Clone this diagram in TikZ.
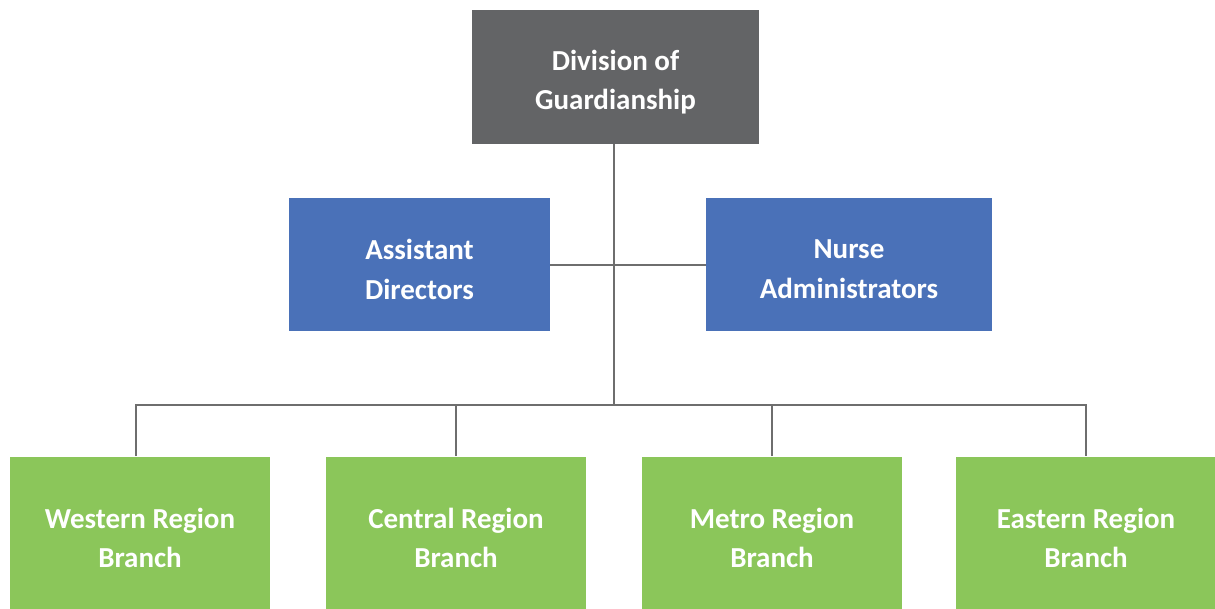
\documentclass[tikz,border=0pt]{standalone}
\usepackage{fontspec}
\setmainfont{Carlito}
\usepackage{xcolor}
\definecolor{colorHead}{HTML}{636466}
\definecolor{colorStaff}{HTML}{4A71B8}
\definecolor{colorBranch}{HTML}{8BC65A}
\definecolor{colorLink}{HTML}{6E6E6E}
\usetikzlibrary{positioning}
\tikzset{box/.style={rectangle, inner sep=0pt},
  caption/.style={inner sep=0pt, align=center, text=white, yshift=-0.1cm, font=\fontsize{16.5}{22.6}\selectfont\bfseries},
  head/.style={box, fill=colorHead, minimum width=5.74cm, minimum height=2.68cm},
  staff/.style={box, fill=colorStaff, minimum height=2.66cm},
  branch/.style={box, fill=colorBranch, minimum width=5.22cm, minimum height=3.06cm},
  link/.style={draw=colorLink, line width=1pt}}
\begin{document}
\begin{tikzpicture}[x=0.02cm, y=-0.02cm]
\useasboundingbox (0,0) rectangle (1215,609);
\node[head, label={[caption]center:Division of\\Guardianship}] (dog) at (615.5,77) {};
\node[staff, minimum width=5.22cm, label={[caption]center:Assistant\\Directors}] (ad) at (419.5,264.5) {};
\node[staff, minimum width=5.72cm, label={[caption]center:Nurse\\Administrators}] (na) at (849,264.5) {};
\node[branch, label={[caption]center:Western Region\\Branch}] (wrb) at (140,533) {};
\node[branch, label={[caption]center:Central Region\\Branch}] (crb) at (456,533) {};
\node[branch, label={[caption]center:Metro Region\\Branch}] (mrb) at (772,533) {};
\node[branch, label={[caption]center:Eastern Region\\Branch}] (erb) at (1086,533) {};
\coordinate (hub) at (614,405);
\coordinate (mid) at (614,265);
\coordinate (wdrop) at (136,405);
\draw[link] (dog.south -| hub) -- (hub);
\draw[link] (ad.east |- mid) -- (na.west |- mid);
\draw[link] (wdrop |- wrb.north) -- (wdrop) -- (hub) -| (erb.north);
\draw[link] (crb.north) -- (crb.north |- hub);
\draw[link] (mrb.north) -- (mrb.north |- hub);
\end{tikzpicture}
\end{document}
